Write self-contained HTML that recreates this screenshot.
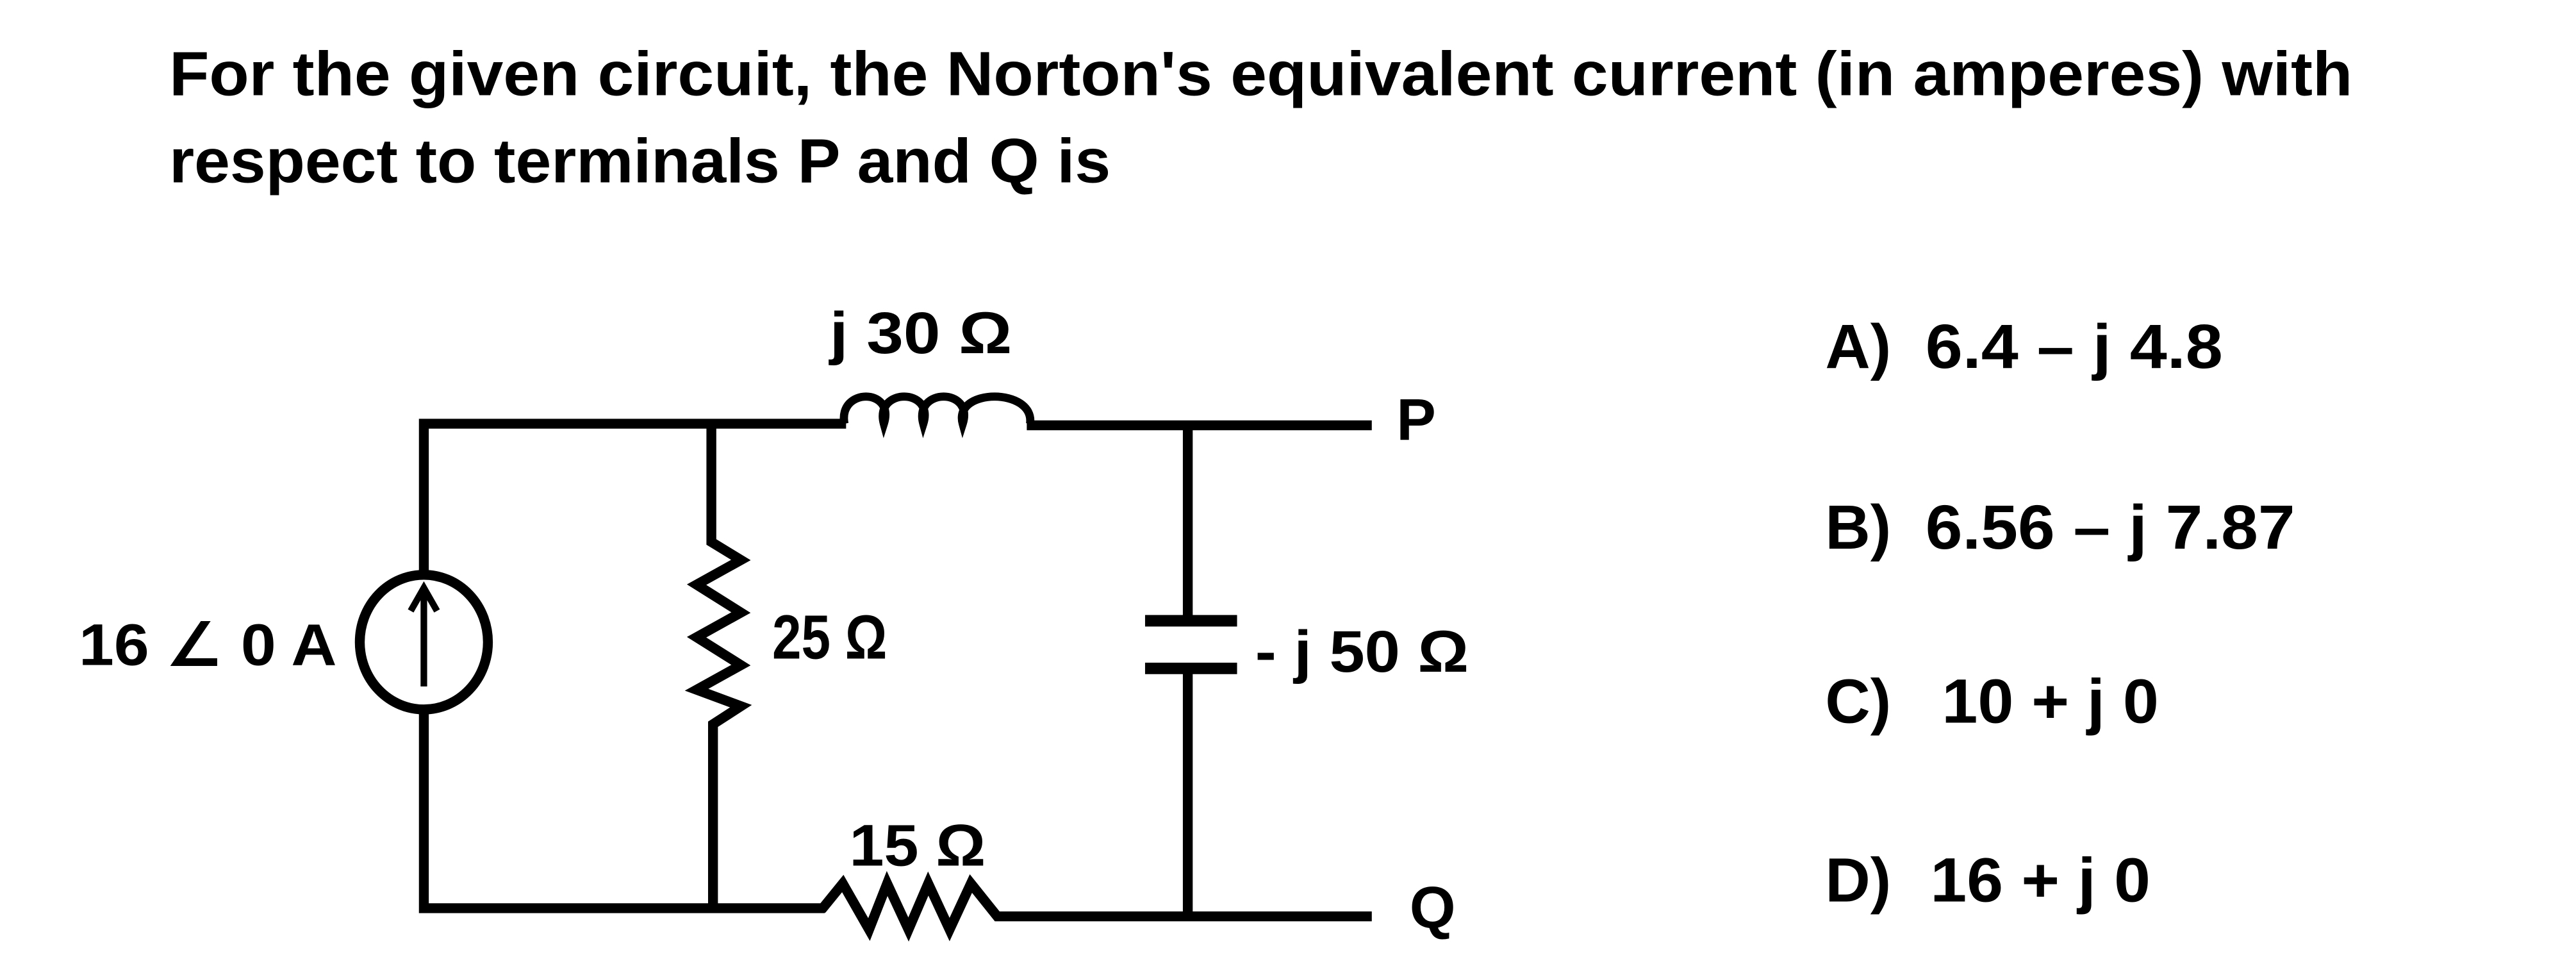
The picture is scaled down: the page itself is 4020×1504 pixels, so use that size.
<!DOCTYPE html>
<html><head><meta charset="utf-8"><style>
html,body{margin:0;padding:0;background:#fff;}
svg{display:block;}
text{font-family:"Liberation Sans",sans-serif;font-weight:bold;fill:#000;}
</style></head><body>
<svg width="4020" height="1504" viewBox="0 0 1568 587" preserveAspectRatio="none" xmlns="http://www.w3.org/2000/svg">
<rect width="1568" height="587" fill="#fff"/>
<text x="103" y="58" font-size="38" textLength="1329" lengthAdjust="spacingAndGlyphs">For the given circuit, the Norton's equivalent current (in amperes) with</text>
<text x="103" y="111" font-size="38" textLength="573" lengthAdjust="spacingAndGlyphs">respect to terminals P and Q is</text>

<g stroke="#000" stroke-width="6" fill="none" stroke-linejoin="miter">
<polyline points="258,349 258,258 515,258"/>
<line x1="625" y1="259" x2="835" y2="259"/>
<path d="M514,258 C510,236 545,236 538,258 C532,236 569,236 562,258 C556,236 593,236 586,258 C580,236 630,236 627,258" stroke-width="5"/>
<polyline points="258,433 258,553 502,553"/>
<ellipse cx="258" cy="391" rx="39" ry="41"/>
<line x1="258" y1="418" x2="258" y2="360" stroke-width="4"/>
<polyline points="250,372 258,358 266,372" stroke-width="4"/>
<polyline points="433,258 433,330 451,341 424,356 451,373 424,388 451,405 424,420 451,430 434,441 434,553"/>
<polyline points="500,554 513,538 529,566 540,538 553,566 565,538 578,566 591,538 607,558 835,558"/>
<line x1="723" y1="258" x2="723" y2="378"/>
<line x1="697" y1="378" x2="753" y2="378" stroke-width="7"/>
<line x1="697" y1="407" x2="753" y2="407" stroke-width="7"/>
<line x1="723" y1="407" x2="723" y2="558"/>
</g>

<text x="505" y="215" font-size="36" textLength="111" lengthAdjust="spacingAndGlyphs">j 30 Ω</text>
<text x="850" y="268" font-size="36">P</text>
<text x="858" y="565" font-size="36">Q</text>
<text x="48" y="405" font-size="36" textLength="157" lengthAdjust="spacingAndGlyphs">16 ∠ 0 A</text>
<text x="470" y="401" font-size="38" textLength="70" lengthAdjust="spacingAndGlyphs">25 Ω</text>
<text x="764" y="409" font-size="36" textLength="130" lengthAdjust="spacingAndGlyphs">- j 50 Ω</text>
<text x="517" y="527" font-size="36" textLength="83" lengthAdjust="spacingAndGlyphs">15 Ω</text>

<text x="1111" y="224" font-size="38">A)</text>
<text x="1172" y="224" font-size="38" textLength="181" lengthAdjust="spacingAndGlyphs">6.4 – j 4.8</text>
<text x="1111" y="334" font-size="38">B)</text>
<text x="1172" y="334" font-size="38" textLength="225" lengthAdjust="spacingAndGlyphs">6.56 – j 7.87</text>
<text x="1111" y="440" font-size="38">C)</text>
<text x="1182" y="440" font-size="38" textLength="132" lengthAdjust="spacingAndGlyphs">10 + j 0</text>
<text x="1111" y="549" font-size="38">D)</text>
<text x="1175" y="549" font-size="38" textLength="134" lengthAdjust="spacingAndGlyphs">16 + j 0</text>
</svg>
</body></html>
